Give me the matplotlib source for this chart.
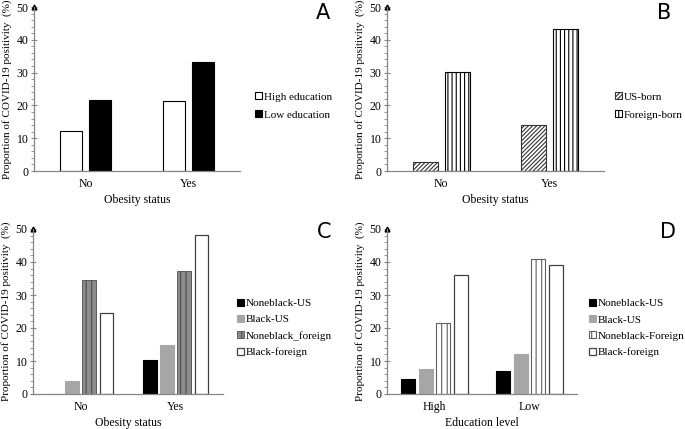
"""Four-panel bar chart: COVID-19 positivity by obesity / education."""

import numpy as np
import matplotlib
matplotlib.use("Agg")
import matplotlib.pyplot as plt
from matplotlib.ticker import MultipleLocator

plt.rcParams["font.family"] = ["Liberation Serif", "DejaVu Serif"]
plt.rcParams["hatch.linewidth"] = 0.8

# data
obesity_cats = ["No", "Yes"]
education_cats = ["High", "Low"]

a_labels = ["High education", "Low education"]
a_high = [12.3, 21.2]
a_low = [21.6, 33.1]

b_labels = ["US-born", "Foreign-born"]
b_us = [2.7, 13.9]
b_foreign = [30.1, 43.2]

c_labels = ["Noneblack-US", "Black-US", "Noneblack_foreign", "Black-foreign"]
c_nb_us = [0.0, 10.2]
c_b_us = [3.8, 15.0]
c_nb_foreign = [34.4, 37.3]
c_b_foreign = [24.4, 48.3]

d_labels = ["Noneblack-US", "Black-US", "Noneblack-Foreign", "Black-foreign"]
d_nb_us = [4.5, 7.1]
d_b_us = [7.6, 12.2]
d_nb_foreign = [21.4, 40.9]
d_b_foreign = [36.0, 39.1]

YLABEL = "Proportion of COVID-19 positivity  (%)"
AXIS_GRAY = "#868686"

fig = plt.figure(figsize=(6.85, 4.29), dpi=100)
W, H = 685, 429


def make_ax(left, right, bottom, top):
    return fig.add_axes([left / W, 1 - bottom / H, (right - left) / W, (bottom - top) / H])


def style(ax, cats, xlabel):
    ax.set_xlim(-0.5, 1.5)
    ax.set_ylim(0, 50)
    ax.set_xticks(range(len(cats)))
    ax.set_xticklabels(cats, fontsize=8.5)
    ax.set_xlabel(xlabel, fontsize=8.5, labelpad=3)
    ax.set_ylabel(YLABEL, fontsize=8, labelpad=3)
    ax.yaxis.set_major_locator(MultipleLocator(10))
    ax.yaxis.set_minor_locator(MultipleLocator(2))
    for s in ["top", "right"]:
        ax.spines[s].set_visible(False)
    for s in ["left", "bottom"]:
        ax.spines[s].set_color(AXIS_GRAY)
        ax.spines[s].set_linewidth(0.9)
    ax.tick_params(axis="x", length=0, pad=5)
    ax.tick_params(axis="y", which="major", length=4, direction="inout", color=AXIS_GRAY,
                   labelsize=8.5, pad=2)
    ax.tick_params(axis="y", which="minor", length=2.5, direction="out", color=AXIS_GRAY)
    ax.plot(0, 1, "^", transform=ax.transAxes, clip_on=False, color="black", ms=3.5)


def bars(ax, series, styles, width, step):
    n = len(series)
    x = np.arange(2)
    handles = []
    for i, (vals, st) in enumerate(zip(series, styles)):
        off = (i - (n - 1) / 2) * step
        h = ax.bar(x + off, vals, width, **st)
        handles.append(h)
    return handles


def legend(ax, handles, labels, x, y, spacing):
    ax.legend(handles, labels, loc="center left", bbox_to_anchor=(x / W, 1 - y / H),
              bbox_transform=fig.transFigure, frameon=False, fontsize=8,
              handlelength=0.6, handleheight=0.6, handletextpad=0.2,
              labelspacing=spacing, borderaxespad=0, borderpad=0)


def letter(x, y, s):
    fig.text(x / W, 1 - y / H, s, family="DejaVu Sans", fontsize=15, ha="center", va="center")


white = dict(color="white", edgecolor="black", linewidth=0.8)
black = dict(color="black", edgecolor="black", linewidth=0.8)
gray = dict(color="#a6a6a6", edgecolor="#a6a6a6", linewidth=0.8)

# A
axA = make_ax(34, 240, 171, 7)
style(axA, obesity_cats, "Obesity status")
hA = bars(axA, [a_high, a_low], [white, black], 0.22, 0.28)
legend(axA, hA, a_labels, 255, 106, 0.75)
letter(323, 13, "A")

# B
axB = make_ax(387, 604, 171, 7)
style(axB, obesity_cats, "Obesity status")
hB = bars(axB, [b_us, b_foreign],
          [dict(color="white", edgecolor="#333333", hatch="////////", linewidth=0.8),
           dict(color="white", edgecolor="black", hatch="||||", linewidth=0.8)], 0.23, 0.295)
legend(axB, hB, b_labels, 615, 106, 0.75)
letter(664, 13, "B")

# C
axC = make_ax(33, 223, 394, 229)
style(axC, obesity_cats, "Obesity status")
hC = bars(axC, [c_nb_us, c_b_us, c_nb_foreign, c_b_foreign],
          [black, gray,
           dict(color="#8c8c8c", edgecolor="#4d4d4d", hatch="|||", linewidth=0.6),
           dict(color="white", edgecolor="#404040", linewidth=0.9)], 0.14, 0.18)
legend(axC, hC, c_labels, 237, 328, 0.6)
letter(324, 232, "C")

# D
axD = make_ax(387, 577, 394, 229)
style(axD, education_cats, "Education level")
hD = bars(axD, [d_nb_us, d_b_us, d_nb_foreign, d_b_foreign],
          [black, gray,
           dict(color="white", edgecolor="#606060", hatch="|||", linewidth=0.8),
           dict(color="white", edgecolor="#404040", linewidth=0.9)], 0.15, 0.184)
legend(axD, hD, d_labels, 589, 328, 0.6)
letter(668, 232, "D")

fig.savefig("out.png", dpi=100)
